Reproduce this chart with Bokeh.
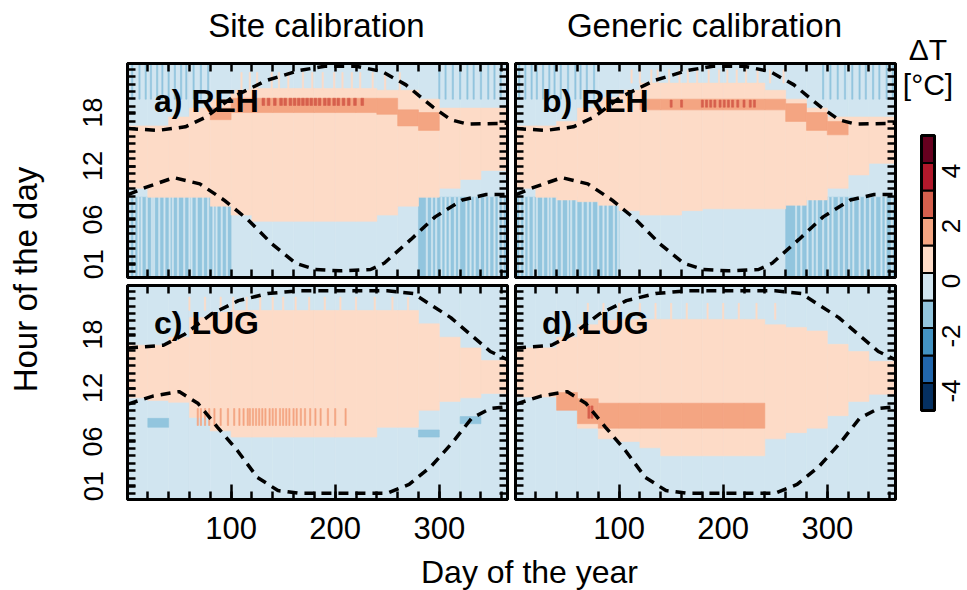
import math
from bokeh.plotting import figure
from bokeh.models import (FixedTicker, LinearAxis, Range1d, Label,
                          ColumnDataSource, LinearColorMapper)
from bokeh.layouts import row, column
from bokeh.core.properties import value
from bokeh.embed import file_html
from bokeh.resources import INLINE

FONT = "Liberation Sans"

# ---------------- colour classes (deltaT, 1 degC bins) ----------------
CBAR_BREAKS = [-5, -4, -3, -2, -1, 0, 1, 2, 3, 4, 5]
CBAR_COLORS = ["#053061", "#2166ac", "#4393c3", "#92c5de", "#d1e5f0",
               "#fddbc7", "#f4a582", "#d6604d", "#b2182b", "#67001f"]
CBAR_TICKS = [-4, -2, 0, 2, 4]
CBAR_TICK_LABELS = ["-4", "-2", "0", "2", "4"]

# representative deltaT of each class present in the maps
DT_PALE, DT_COOL, DT_WARM, DT_HOT, DT_RED = -0.5, -1.5, 0.5, 1.5, 2.5

# ---------------- axes ----------------
DAY_RANGE = (0.5, 365.5)
HOUR_RANGE = (-0.5, 23.5)
DAY_TICKS = [100, 200, 300]
DAY_MINOR = [20, 40, 60, 80, 100, 120, 140, 160, 180, 200, 220, 240, 260,
             280, 300, 320, 340, 360]
HOUR_TICKS = [1, 6, 12, 18]
HOUR_LABELS = ["01", "06", "12", "18"]
HOUR_MINOR = [0.2, 1.04, 1.88, 2.72, 3.56, 4.4, 5.24, 6.08, 6.92, 7.76, 8.6,
              9.44, 10.28, 11.12, 11.96, 12.8, 13.64, 14.48, 15.32, 16.16,
              17.0, 17.84, 18.68, 19.52, 20.36, 21.2, 22.04, 22.88]

# day segments (20-day blocks) used to describe the bands of each map
DAY_EDGES = [0.5, 20, 40, 60, 80, 100, 120, 140, 160, 180, 200, 220, 240,
             260, 280, 300, 320, 340, 360, 365.5]
N = None

# ---------------- a) REH, site calibration ----------------
A_COOL_LO = [-0.5, -0.5, -0.5, -0.5, -0.5, N, N, N, N, N, N, N, N, N, -0.5, -0.5, -0.5, -0.5, -0.5]
A_COOL_HI = [8.5, 8.5, 8.5, 8.5, 8.5, N, N, N, N, N, N, N, N, N, 8.5, 8.5, 8.5, 8.5, 8.5]
A_WARM_LO = [9.5, 8.5, 8.5, 8.5, 7.5, 6.5, 5.8, 5.8, 5.8, 5.8, 5.8, 5.8, 6.5, 7.5, 8.5, 9.5, 10.5, 11.5, 11.5]
A_WARM_HI = [16.5, 16.5, 17.5, 18.5, 19.5, 20.5, 20.7, 20.7, 20.7, 20.7, 20.7, 20.7, 20.5, 20.5, 19.5, 18.5, 18.5, 18.5, 18.5]
A_HOT_LO = [N, N, N, N, 17.2, 18.0, 18.0, 18.0, 18.0, 18.0, 18.0, 18.0, 17.8, 16.5, 16.0, N, N, N, N]
A_HOT_HI = [N, N, N, N, 18.5, 19.6, 19.6, 19.6, 19.6, 19.6, 19.6, 19.6, 19.6, 18.3, 18.0, N, N, N, N]
A_RED_DAYS = [131, 136, 142, 148, 152, 157, 161, 165, 169, 173, 177, 181,
              185, 190, 194, 199, 203, 208, 213, 219, 226]
A_RED_BAND = (18.8, 19.6)
A_PALE_DAYS = [3, 7, 11, 14, 19, 24, 26, 31, 36, 41, 44, 49, 55, 60, 62, 67,
               73, 78, 83, 86, 91, 96, 288, 293, 297, 302, 306, 310, 315, 319,
               326, 330, 334, 339, 344, 348, 353, 357, 361]
A_PALE_BAND = (-0.5, 8.5)
A_TOPCOOL_DAYS = [5, 12, 18, 23, 29, 34, 40, 46, 52, 57, 64, 71, 78, 300,
                  306, 313, 320, 327, 333, 340, 347, 353, 359]
A_TOPCOOL_BAND = (19.5, 23.5)
A_TOPWARM_DAYS = [110, 118, 125, 139, 146, 155, 169, 178, 188, 199, 207,
                  216, 224, 236, 248, 262]
A_TOPWARM_BAND = (20.5, 22.5)

# ---------------- b) REH, generic calibration ----------------
B_COOL_LO = [-0.5, -0.5, -0.5, -0.5, -0.5, N, N, N, N, N, N, N, N, -0.5, -0.5, -0.5, -0.5, -0.5, -0.5]
B_COOL_HI = [8.5, 8.5, 8.5, 8.5, 8.5, N, N, N, N, N, N, N, N, 8.2, 8.5, 8.5, 8.5, 8.5, 8.5]
B_WARM_LO = [9.5, 8.5, 8.2, 8.0, 7.6, 7.0, 6.5, 6.5, 7.0, 7.2, 7.2, 7.2, 7.2, 7.6, 8.2, 9.5, 11.0, 12.3, 12.3]
B_WARM_HI = [16.5, 16.5, 17.0, 18.5, 19.7, 20.5, 21.3, 21.3, 21.3, 21.3, 21.3, 21.3, 20.5, 19.5, 18.5, 17.5, 17.5, 17.5, 17.5]
B_HOT_LO = [N, N, N, N, N, N, 18.3, 18.3, 18.3, 18.3, 18.3, 18.3, 18.3, 17.0, 16.0, 15.5, N, N, N]
B_HOT_HI = [N, N, N, N, N, N, 19.5, 19.5, 19.5, 19.5, 19.5, 19.5, 19.5, 19.0, 18.0, 17.0, N, N, N]
B_RED_DAYS = [150, 160, 180, 184, 188, 192, 197, 201, 205, 209, 214, 220, 226, 230]
B_RED_BAND = (18.6, 19.4)
B_PALE_DAYS = [5, 9, 13, 18, 21, 27, 32, 35, 40, 45, 51, 54, 59, 65, 70,
               74, 80, 85, 89, 95, 99, 104, 270, 275, 281, 286, 290, 296,
               301, 305, 311, 316, 321, 325, 331, 336, 341, 346, 352, 356, 362]
B_PALE_BAND = (-0.5, 8.5)
B_TOPCOOL_DAYS = [4, 10, 16, 21, 27, 33, 38, 44, 51, 58, 63, 69, 76, 296,
                  303, 310, 317, 324, 331, 337, 344, 350, 357, 363]
B_TOPCOOL_BAND = (19.5, 23.5)
B_TOPWARM_DAYS = [112, 120, 131, 137, 148, 158, 166, 175, 186, 196, 204,
                  213, 222, 233, 245, 258]
B_TOPWARM_BAND = (21.3, 22.8)

# ---------------- c) LUG, site calibration ----------------
C_COOL_LO = [N, 7.6, N, N, N, N, N, N, N, N, N, N, N, N, 6.5, N, 8.0, N, N]
C_COOL_HI = [N, 8.6, N, N, N, N, N, N, N, N, N, N, N, N, 7.3, N, 8.8, N, N]
C_WARM_LO = [10.9, 10.6, 10.4, 8.7, 7.2, 6.5, 6.5, 6.5, 6.5, 6.5, 6.5, 6.5, 7.6, 7.6, 9.5, 10.5, 10.9, 11.4, 11.4]
C_WARM_HI = [16.8, 16.8, 17.7, 19.9, 20.5, 20.7, 20.7, 20.7, 20.7, 20.7, 20.7, 20.7, 20.7, 20.7, 19.2, 17.7, 16.5, 15.1, 15.1]
C_HOT_DAYS = [68, 71, 75, 79, 84, 90, 97, 103, 108, 112, 116, 118, 121, 124,
              127, 130, 133, 137, 140, 143, 147, 150, 153, 156, 160, 163, 167,
              171, 176, 181, 186, 193, 200, 210]
C_HOT_BAND = (7.8, 9.7)
C_TOPWARM_DAYS = [60, 75, 90, 102, 115, 128, 140, 150, 162, 175, 190, 205,
                  220, 238, 255, 270]
C_TOPWARM_BAND = (20.7, 22.2)

# ---------------- d) LUG, generic calibration ----------------
D_WARM_LO = [11.0, 11.0, 10.0, 7.5, 6.3, 6.0, 5.3, 4.4, 4.4, 4.4, 4.4, 4.4, 6.3, 7.0, 7.5, 8.9, 10.5, 11.3, 11.3]
D_WARM_HI = [16.5, 16.5, 17.7, 19.1, 19.6, 19.7, 19.7, 19.7, 19.7, 19.7, 19.7, 19.7, 19.1, 18.8, 18.4, 16.9, 16.1, 15.0, 15.0]
D_HOT_LO = [N, N, 9.5, 8.0, 7.5, 7.5, 7.5, 7.5, 7.5, 7.5, 7.5, 7.5, N, N, N, N, N, N, N]
D_HOT_HI = [N, N, 11.5, 10.8, 10.3, 10.3, 10.3, 10.3, 10.3, 10.3, 10.3, 10.3, N, N, N, N, N, N, N]
D_RED_DAYS = [71, 74]
D_RED_BAND = (8.6, 10.0)
D_TOPWARM_DAYS = [70, 85, 100, 120, 135, 150, 165, 185, 200, 215, 232, 250]
D_TOPWARM_BAND = (19.7, 21.5)

# ---------------- sunrise / sunset (dashed) ----------------
REH_SUNSET_DAY = [1, 30, 56, 76, 101, 134, 165, 190, 220, 245, 268, 294, 311, 327, 365]
REH_SUNSET_HOUR = [16.2, 16.0, 16.4, 17.5, 19.7, 21.6, 22.7, 23.2, 23.2, 22.6, 21.1, 18.6, 17.2, 16.7, 16.8]
REH_SUNRISE_DAY = [1, 18, 45, 70, 93, 116, 139, 162, 181, 205, 234, 247, 273, 296, 322, 345, 365]
REH_SUNRISE_HOUR = [8.8, 9.6, 10.7, 10.0, 8.2, 6.0, 3.3, 1.1, 0.4, 0.25, 0.4, 1.1, 3.8, 6.3, 8.2, 8.8, 8.8]
LUG_SUNSET_DAY = [1, 35, 55, 81, 107, 135, 165, 250, 275, 291, 311, 333, 349, 365]
LUG_SUNSET_HOUR = [16.5, 16.8, 18.0, 20.3, 21.8, 22.6, 22.9, 22.9, 22.6, 21.4, 19.9, 17.7, 16.1, 15.2]
LUG_SUNRISE_DAY = [1, 25, 50, 68, 87, 106, 125, 145, 165, 250, 271, 292, 312, 331, 349, 365]
LUG_SUNRISE_HOUR = [10.2, 11.1, 11.6, 10.3, 7.6, 5.0, 2.0, 0.5, 0.2, 0.2, 1.2, 3.2, 5.8, 8.6, 9.7, 9.9]

COL_TITLES = ["Site calibration", "Generic calibration"]
PANEL_LABELS = ["a) REH", "b) REH", "c) LUG", "d) LUG"]
X_TITLE = "Day of the year"
Y_TITLE = "Hour of the day"
CBAR_TITLE = ["\u0394T", "[\u00b0C]"]

FRAME_W, FRAME_H = 380, 214

mapper = LinearColorMapper(palette=CBAR_COLORS, low=CBAR_BREAKS[0], high=CBAR_BREAKS[-1])


def add_band(d, lo_list, hi_list, dt):
    for i in range(len(DAY_EDGES) - 1):
        lo, hi = lo_list[i], hi_list[i]
        if lo is None or hi is None:
            continue
        d["left"].append(DAY_EDGES[i])
        d["right"].append(DAY_EDGES[i + 1])
        d["bottom"].append(lo)
        d["top"].append(hi)
        d["dt"].append(dt)


def add_streaks(d, days, band, dt, width):
    for day in days:
        d["left"].append(day - width / 2)
        d["right"].append(day + width / 2)
        d["bottom"].append(band[0])
        d["top"].append(band[1])
        d["dt"].append(dt)


def styled_axis(ticks, minor, major_in, labels, font_size=None, standoff=0, orient=None):
    ax = LinearAxis(ticker=FixedTicker(ticks=ticks if labels else [],
                                       minor_ticks=minor))
    ax.major_tick_in = major_in
    ax.major_tick_out = 0
    ax.minor_tick_in = 8
    ax.minor_tick_out = 0
    ax.major_tick_line_width = 2.5
    ax.minor_tick_line_width = 2.5
    ax.axis_line_width = 3
    ax.axis_line_color = "black"
    ax.major_label_standoff = standoff
    if labels:
        ax.major_label_text_font = FONT
        ax.major_label_text_font_size = font_size
        ax.major_label_text_color = "black"
        if orient is not None:
            ax.major_label_orientation = orient
    return ax


def panel(layers, sunset, sunrise, label, show_x, show_y, borders):
    bl, br, bt, bb = borders
    p = figure(frame_width=FRAME_W, frame_height=FRAME_H,
               x_range=Range1d(*DAY_RANGE), y_range=Range1d(*HOUR_RANGE),
               x_axis_type=None, y_axis_type=None, toolbar_location=None,
               output_backend="svg", min_border_left=bl, min_border_right=br,
               min_border_top=bt, min_border_bottom=bb)
    p.outline_line_color = "black"
    p.outline_line_width = 3
    data = dict(left=[], right=[], bottom=[], top=[], dt=[])
    full_lo = [HOUR_RANGE[0]] * (len(DAY_EDGES) - 1)
    full_hi = [HOUR_RANGE[1]] * (len(DAY_EDGES) - 1)
    add_band(data, full_lo, full_hi, DT_PALE)
    for kind, a, b, dt, w in layers:
        if kind == "band":
            add_band(data, a, b, dt)
        else:
            add_streaks(data, a, b, dt, w)
    src = ColumnDataSource(data)
    p.quad(left="left", right="right", bottom="bottom", top="top", source=src,
           fill_color={"field": "dt", "transform": mapper},
           line_color={"field": "dt", "transform": mapper}, line_width=0.6)
    p.line(sunset[0], sunset[1], line_color="black", line_width=3.5, line_dash="10 7")
    p.line(sunrise[0], sunrise[1], line_color="black", line_width=3.5, line_dash="10 7")
    p.add_layout(Label(x=26, y=19.3, text=label, text_font=FONT,
                       text_font_size="32px", text_font_style="bold",
                       text_baseline="middle", text_color="black"))
    xb = styled_axis(DAY_TICKS, DAY_MINOR, 15, show_x, "31px", 17)
    if show_x:
        xb.major_label_overrides = {t: str(t) for t in DAY_TICKS}
    p.add_layout(xb, "below")
    p.add_layout(styled_axis(DAY_TICKS, DAY_MINOR, 15, False), "above")
    yl = styled_axis(HOUR_TICKS, HOUR_MINOR, 8, show_y, "27px", 25, "vertical")
    if show_y:
        yl.major_label_overrides = dict(zip(HOUR_TICKS, HOUR_LABELS))
    p.add_layout(yl, "left")
    p.add_layout(styled_axis(HOUR_TICKS, HOUR_MINOR, 8, False), "right")
    return p


def holder(w, h, xr, yr):
    f = figure(width=w, height=h, x_range=Range1d(*xr), y_range=Range1d(*yr),
               x_axis_type=None, y_axis_type=None, toolbar_location=None,
               output_backend="svg", min_border=0)
    f.outline_line_color = None
    return f


def txt(f, x, y, s, size, angle=0.0):
    f.add_layout(Label(x=x, y=y, text=s, text_font=FONT, text_font_size=size,
                       text_align="center", text_baseline="middle", angle=angle,
                       text_color="black"))


pa = panel([("band", A_COOL_LO, A_COOL_HI, DT_COOL, 0),
            ("streak", A_PALE_DAYS, A_PALE_BAND, DT_PALE, 1.2),
            ("streak", A_TOPCOOL_DAYS, A_TOPCOOL_BAND, DT_COOL, 1.2),
            ("band", A_WARM_LO, A_WARM_HI, DT_WARM, 0),
            ("streak", A_TOPWARM_DAYS, A_TOPWARM_BAND, DT_WARM, 1.2),
            ("band", A_HOT_LO, A_HOT_HI, DT_HOT, 0),
            ("streak", A_RED_DAYS, A_RED_BAND, DT_RED, 2.6)],
           (REH_SUNSET_DAY, REH_SUNSET_HOUR), (REH_SUNRISE_DAY, REH_SUNRISE_HOUR),
           PANEL_LABELS[0], False, True, (65, 4, 3, 4))
pb = panel([("band", B_COOL_LO, B_COOL_HI, DT_COOL, 0),
            ("streak", B_PALE_DAYS, B_PALE_BAND, DT_PALE, 1.2),
            ("streak", B_TOPCOOL_DAYS, B_TOPCOOL_BAND, DT_COOL, 1.2),
            ("band", B_WARM_LO, B_WARM_HI, DT_WARM, 0),
            ("streak", B_TOPWARM_DAYS, B_TOPWARM_BAND, DT_WARM, 1.2),
            ("band", B_HOT_LO, B_HOT_HI, DT_HOT, 0),
            ("streak", B_RED_DAYS, B_RED_BAND, DT_RED, 2.0)],
           (REH_SUNSET_DAY, REH_SUNSET_HOUR), (REH_SUNRISE_DAY, REH_SUNRISE_HOUR),
           PANEL_LABELS[1], False, False, (4, 4, 3, 4))
pc = panel([("band", C_COOL_LO, C_COOL_HI, DT_COOL, 0),
            ("band", C_WARM_LO, C_WARM_HI, DT_WARM, 0),
            ("streak", C_TOPWARM_DAYS, C_TOPWARM_BAND, DT_WARM, 1.2),
            ("streak", C_HOT_DAYS, C_HOT_BAND, DT_HOT, 1.2)],
           (LUG_SUNSET_DAY, LUG_SUNSET_HOUR), (LUG_SUNRISE_DAY, LUG_SUNRISE_HOUR),
           PANEL_LABELS[2], True, True, (65, 4, 4, 55))
pd_ = panel([("band", D_WARM_LO, D_WARM_HI, DT_WARM, 0),
             ("streak", D_TOPWARM_DAYS, D_TOPWARM_BAND, DT_WARM, 1.2),
             ("band", D_HOT_LO, D_HOT_HI, DT_HOT, 0),
             ("streak", D_RED_DAYS, D_RED_BAND, DT_RED, 2.0)],
            (LUG_SUNSET_DAY, LUG_SUNSET_HOUR), (LUG_SUNRISE_DAY, LUG_SUNRISE_HOUR),
            PANEL_LABELS[3], True, False, (4, 4, 4, 55))

# text holders (pixel-like ranges)
fy = holder(62, 590, (0, 62), (590, 0))
txt(fy, 25, 279, Y_TITLE, "33px", angle=math.pi / 2)

ft = holder(836, 60, (62, 898), (60, 0))
txt(ft, 316, 25, COL_TITLES[0], "33px")
txt(ft, 704, 25, COL_TITLES[1], "33px")

fx = holder(836, 36, (62, 898), (590, 554))
txt(fx, 529, 571, X_TITLE, "32px")

# ---------------- colour bar: one figure, bar occupies x in [0, 1] ----------------
CB_PX_X, CB_PX_Y = 13.0, 27.5          # pixels per unit (bar width, 1 degC)
CB_LEFT_PX, CB_TOP_PX = 22, 135        # bar position inside the 69x590 figure
cb_xr = (-CB_LEFT_PX / CB_PX_X, (69 - CB_LEFT_PX) / CB_PX_X)
cb_yr = (CBAR_BREAKS[-1] - (590 - CB_TOP_PX) / CB_PX_Y, CBAR_BREAKS[-1] + CB_TOP_PX / CB_PX_Y)
fcb = holder(69, 590, cb_xr, cb_yr)
cb_src = ColumnDataSource(dict(bottom=CBAR_BREAKS[:-1], top=CBAR_BREAKS[1:],
                               mid=[(a + b) / 2 for a, b in zip(CBAR_BREAKS[:-1], CBAR_BREAKS[1:])]))
fcb.quad(left=0, right=1, bottom="bottom", top="top", source=cb_src,
         fill_color={"field": "mid", "transform": mapper},
         line_color="black", line_width=2)
fcb.quad(left=0, right=1, bottom=CBAR_BREAKS[0], top=CBAR_BREAKS[-1],
         fill_color=None, line_color="black", line_width=3)
fcb.text(x=[2.25] * len(CBAR_TICKS), y=CBAR_TICKS, text=CBAR_TICK_LABELS,
         angle=math.pi / 2, text_align="center", text_baseline="middle",
         y_offset=8, text_font=value(FONT), text_font_size=value("26px"),
         text_color="black")
fcb.text(x=[0.5, 0.5], y=[CBAR_BREAKS[-1] + (CB_TOP_PX - 49) / CB_PX_Y,
                          CBAR_BREAKS[-1] + (CB_TOP_PX - 84) / CB_PX_Y],
         text=CBAR_TITLE, text_align="center", text_baseline="middle",
         text_font=value(FONT), text_font_size=value("30px"), text_color="black")

layout = row(
    fy,
    column(ft, row(pa, pb), row(pc, pd_), fx),
    fcb,
)

open("out.html", "w").write(file_html(layout, INLINE))
